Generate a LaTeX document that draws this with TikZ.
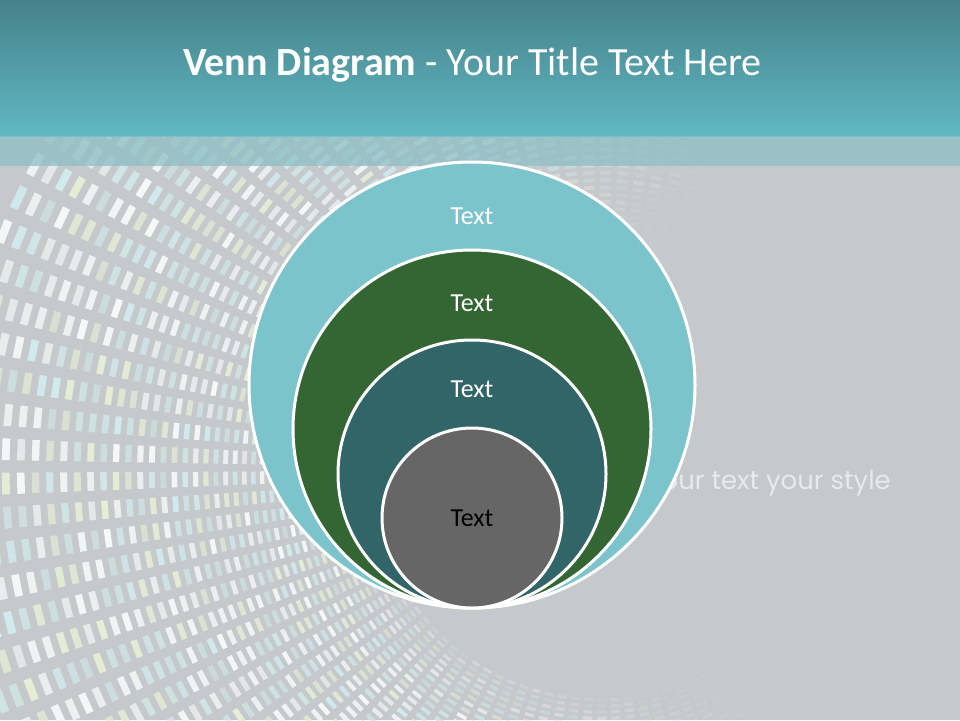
\documentclass[tikz,border=0pt]{standalone}
\usepackage{fontspec}
\setmainfont{Carlito}
\newfontfamily\stylefont{Poppins}

\definecolor{bggray}{HTML}{C5C9CC}
\definecolor{titletop}{HTML}{46828A}
\definecolor{titlebot}{HTML}{60B8C3}
\definecolor{bandteal}{HTML}{8DBFC5}
\definecolor{dotwhite}{HTML}{F6F9F9}
\definecolor{dotcyan}{HTML}{D2EBEF}
\definecolor{dotlime}{HTML}{E6EED6}
\definecolor{dotteal}{HTML}{CFE6E2}
\definecolor{ringlight}{HTML}{7BC4CC}
\definecolor{ringgreen}{HTML}{346633}
\definecolor{ringdark}{HTML}{316568}
\definecolor{ringgray}{HTML}{666666}
\definecolor{stylegray}{HTML}{E6EAEC}

\pgfmathdeclarerandomlist{dotcols}{{dotwhite}{dotcyan}{dotlime}{dotteal}{dotwhite}}

\tikzset{
  ringdisk/.style={draw=white, line width=3pt},
  ringlabel/.style={font=\fontsize{26}{30}\selectfont, text=white},
}

\begin{document}
\begin{tikzpicture}[x=1pt,y=-1pt,line join=round]
  \useasboundingbox (0,0) rectangle (960,720);
  \fill[bggray] (0,0) rectangle (960,720);
  \pgfmathsetseed{7}
  \begin{scope}
    \clip (0,0) rectangle (960,720);
    \foreach \n in {0,...,40} {
      \pgfmathsetmacro{\r}{230*1.026^\n}
      \pgfmathsetmacro{\dr}{\r*0.0065}
      \pgfmathsetmacro{\rin}{min(1,(\r-200)/90)}
      \foreach \a in {50,53.3,...,300} {
        \pgfmathsetmacro{\op}{\rin*(0.6+0.4*rnd)*min(1,max(0,(\a-55)/60),max(0,(290-\a)/50))}
        \pgfmathrandomitem{\c}{dotcols}
        \fill[\c, opacity=\op, shift={(600,470)}]
          (\a-1.05:\r-\dr) -- (\a+1.05:\r-\dr) -- (\a+1.05:\r+\dr) -- (\a-1.05:\r+\dr) -- cycle;
      }
    }
  \end{scope}
  \shade[top color=titletop, bottom color=titlebot] (0,0) rectangle (960,136);
  \fill[bandteal, opacity=0.75] (0,136) rectangle (960,166);
  \node[anchor=base west, text=white, font=\fontsize{40}{48}\selectfont, inner sep=0pt] (title) at (183,75)
    {\textbf{Venn Diagram} - Your Title Text Here};
  \node[anchor=base east, text=stylegray, font=\stylefont\fontsize{26}{30}\selectfont, inner sep=0pt] (style) at (891,489)
    {Your text your style};
  \filldraw[ringdisk, fill=ringlight] (472,385) circle (223);
  \filldraw[ringdisk, fill=ringgreen] (472,429) circle (179);
  \filldraw[ringdisk, fill=ringdark] (472,474) circle (134);
  \filldraw[ringdisk, fill=ringgray] (472,518) circle (90);
  \node[ringlabel] (outer) at (472,216) {Text};
  \node[ringlabel] (green) at (472,303) {Text};
  \node[ringlabel] (dark) at (472,389) {Text};
  \node[ringlabel, text=black] (core) at (472,518) {Text};
\end{tikzpicture}
\end{document}
